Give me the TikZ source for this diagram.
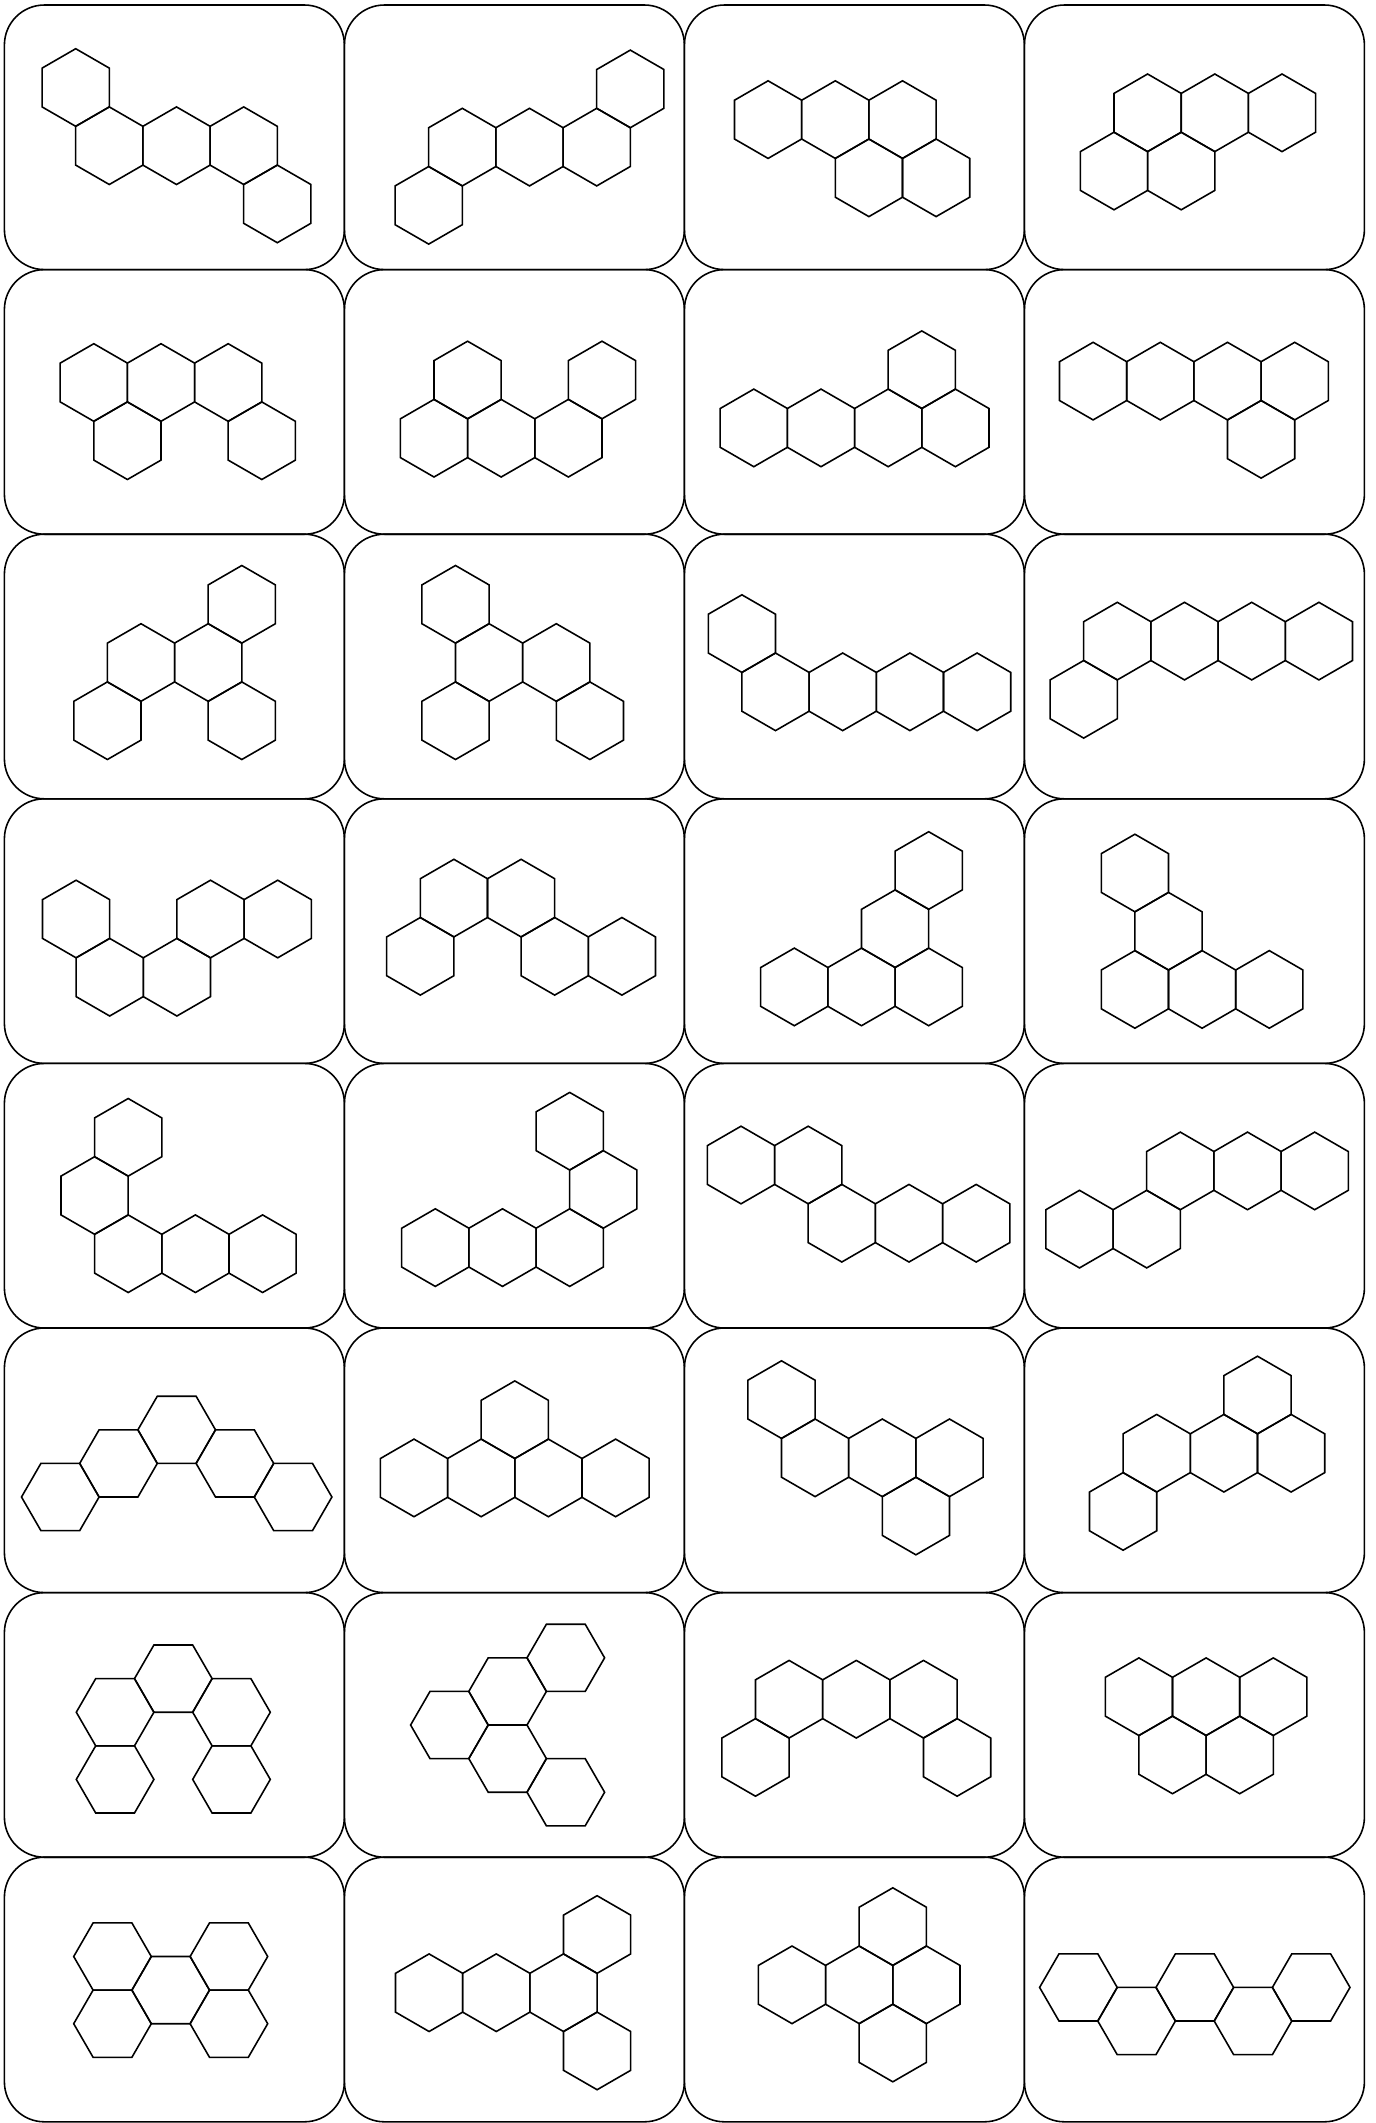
\documentclass[tikz,border=0pt]{standalone}
\usepackage{tikz}

\tikzset{
  cardbox/.style={draw=black, line width=0.45pt, rounded corners=0.4cm},
  hexcell/.style={draw=black, line width=0.45pt, line join=miter}
}
% pointy-top and flat-top cells, centre given in pixel units
\newcommand{\hexup}[2]{\draw[hexcell, shift={(#1,#2)}] (90:38.8) -- (30:38.8) -- (-30:38.8) -- (-90:38.8) -- (-150:38.8) -- (150:38.8) -- cycle;}
\newcommand{\hexflat}[2]{\draw[hexcell, shift={(#1,#2)}] (0:38.8) -- (60:38.8) -- (120:38.8) -- (180:38.8) -- (240:38.8) -- (300:38.8) -- cycle;}

\begin{document}
\begin{tikzpicture}[x=0.01cm, y=-0.01cm]
\useasboundingbox (0,0) rectangle (1376,2123);

% the 4 x 8 cards
\foreach \i in {0,...,3}
  \foreach \j in {0,...,7}
    \draw[cardbox] (4.4+\i*340, 5+\j*264.6) rectangle ++(340,264.6);

% row 1
\begin{scope}[shift={(75.7,87.5)}]
  \foreach \c/\r in {0/0,0.5/1,1.5/1,2.5/1,3/2} \hexup{\c*67.2}{\r*58.2};
\end{scope}
\begin{scope}[shift={(428.7,88.9)}]
  \foreach \c/\r in {3/0,0.5/1,1.5/1,2.5/1,0/2} \hexup{\c*67.2}{\r*58.2};
\end{scope}
\begin{scope}[shift={(768.1,119.6)}]
  \foreach \c/\r in {0/0,1/0,2/0,1.5/1,2.5/1} \hexup{\c*67.2}{\r*58.2};
\end{scope}
\begin{scope}[shift={(1114.0,112.8)}]
  \foreach \c/\r in {0.5/0,1.5/0,2.5/0,0/1,1/1} \hexup{\c*67.2}{\r*58.2};
\end{scope}

% row 2
\begin{scope}[shift={(93.8,382.5)}]
  \foreach \c/\r in {0/0,1/0,2/0,0.5/1,2.5/1} \hexup{\c*67.2}{\r*58.2};
\end{scope}
\begin{scope}[shift={(434.0,380.0)}]
  \foreach \c/\r in {0.5/0,2.5/0,0/1,1/1,2/1} \hexup{\c*67.2}{\r*58.2};
\end{scope}
\begin{scope}[shift={(753.8,369.7)}]
  \foreach \c/\r in {2.5/0,0/1,1/1,2/1,3/1} \hexup{\c*67.2}{\r*58.2};
\end{scope}
\begin{scope}[shift={(1093.1,381.1)}]
  \foreach \c/\r in {0/0,1/0,2/0,3/0,2.5/1} \hexup{\c*67.2}{\r*58.2};
\end{scope}

% row 3
\begin{scope}[shift={(107.4,604.3)}]
  \foreach \c/\r in {2/0,0.5/1,1.5/1,0/2,2/2} \hexup{\c*67.2}{\r*58.2};
\end{scope}
\begin{scope}[shift={(455.5,604.3)}]
  \foreach \c/\r in {0/0,0.5/1,1.5/1,0/2,2/2} \hexup{\c*67.2}{\r*58.2};
\end{scope}
\begin{scope}[shift={(741.9,633.6)}]
  \foreach \c/\r in {0/0,0.5/1,1.5/1,2.5/1,3.5/1} \hexup{\c*67.2}{\r*58.2};
\end{scope}
\begin{scope}[shift={(1083.7,641.1)}]
  \foreach \c/\r in {0.5/0,1.5/0,2.5/0,3.5/0,0/1} \hexup{\c*67.2}{\r*58.2};
\end{scope}

% row 4
\begin{scope}[shift={(76.1,919.0)}]
  \foreach \c/\r in {0/0,2/0,3/0,0.5/1,1.5/1} \hexup{\c*67.2}{\r*58.2};
\end{scope}
\begin{scope}[shift={(420.3,898.1)}]
  \foreach \c/\r in {0.5/0,1.5/0,0/1,2/1,3/1} \hexup{\c*67.2}{\r*58.2};
\end{scope}
\begin{scope}[shift={(794.3,870.5)}]
  \foreach \c/\r in {2/0,1.5/1,0/2,1/2,2/2} \hexup{\c*67.2}{\r*58.2};
\end{scope}
\begin{scope}[shift={(1134.9,873.0)}]
  \foreach \c/\r in {0/0,0.5/1,0/2,1/2,2/2} \hexup{\c*67.2}{\r*58.2};
\end{scope}

% row 5
\begin{scope}[shift={(94.6,1137.3)}]
  \foreach \c/\r in {0.5/0,0/1,0.5/2,1.5/2,2.5/2} \hexup{\c*67.2}{\r*58.2};
\end{scope}
\begin{scope}[shift={(435.3,1131.2)}]
  \foreach \c/\r in {2/0,2.5/1,0/2,1/2,2/2} \hexup{\c*67.2}{\r*58.2};
\end{scope}
\begin{scope}[shift={(741.0,1165.0)}]
  \foreach \c/\r in {0/0,1/0,1.5/1,2.5/1,3.5/1} \hexup{\c*67.2}{\r*58.2};
\end{scope}
\begin{scope}[shift={(1079.5,1170.9)}]
  \foreach \c/\r in {1.5/0,2.5/0,3.5/0,0/1,1/1} \hexup{\c*67.2}{\r*58.2};
\end{scope}

% row 6
\begin{scope}[shift={(60.3,1429.8)}]
  \foreach \c/\r in {0/2,1/1,2/0,3/1,4/2} \hexflat{\c*58.2}{\r*33.6};
\end{scope}
\begin{scope}[shift={(414.0,1419.7)}]
  \foreach \c/\r in {1.5/0,0/1,1/1,2/1,3/1} \hexup{\c*67.2}{\r*58.2};
\end{scope}
\begin{scope}[shift={(781.5,1399.6)}]
  \foreach \c/\r in {0/0,0.5/1,1.5/1,2.5/1,2/2} \hexup{\c*67.2}{\r*58.2};
\end{scope}
\begin{scope}[shift={(1123.1,1395.0)}]
  \foreach \c/\r in {2/0,0.5/1,1.5/1,2.5/1,0/2} \hexup{\c*67.2}{\r*58.2};
\end{scope}

% row 7
\begin{scope}[shift={(115.1,1678.6)}]
  \foreach \c/\r in {0/1,0/3,1/0,2/1,2/3} \hexflat{\c*58.2}{\r*33.6};
\end{scope}
\begin{scope}[shift={(449.4,1657.8)}]
  \foreach \c/\r in {0/2,1/1,1/3,2/0,2/4} \hexflat{\c*58.2}{\r*33.6};
\end{scope}
\begin{scope}[shift={(755.5,1699.2)}]
  \foreach \c/\r in {0.5/0,1.5/0,2.5/0,0/1,3/1} \hexup{\c*67.2}{\r*58.2};
\end{scope}
\begin{scope}[shift={(1138.9,1696.7)}]
  \foreach \c/\r in {0/0,1/0,2/0,0.5/1,1.5/1} \hexup{\c*67.2}{\r*58.2};
\end{scope}

% row 8
\begin{scope}[shift={(112.5,1956.5)}]
  \foreach \c/\r in {0/0,0/2,1/1,2/0,2/2} \hexflat{\c*58.2}{\r*33.6};
\end{scope}
\begin{scope}[shift={(429.1,1934.5)}]
  \foreach \c/\r in {2.5/0,0/1,1/1,2/1,2.5/2} \hexup{\c*67.2}{\r*58.2};
\end{scope}
\begin{scope}[shift={(792.0,1926.6)}]
  \foreach \c/\r in {1.5/0,0/1,1/1,2/1,1.5/2} \hexup{\c*67.2}{\r*58.2};
\end{scope}
\begin{scope}[shift={(1078.4,1987.4)}]
  \foreach \c/\r in {0/0,1/1,2/0,3/1,4/0} \hexflat{\c*58.2}{\r*33.6};
\end{scope}
\end{tikzpicture}
\end{document}
